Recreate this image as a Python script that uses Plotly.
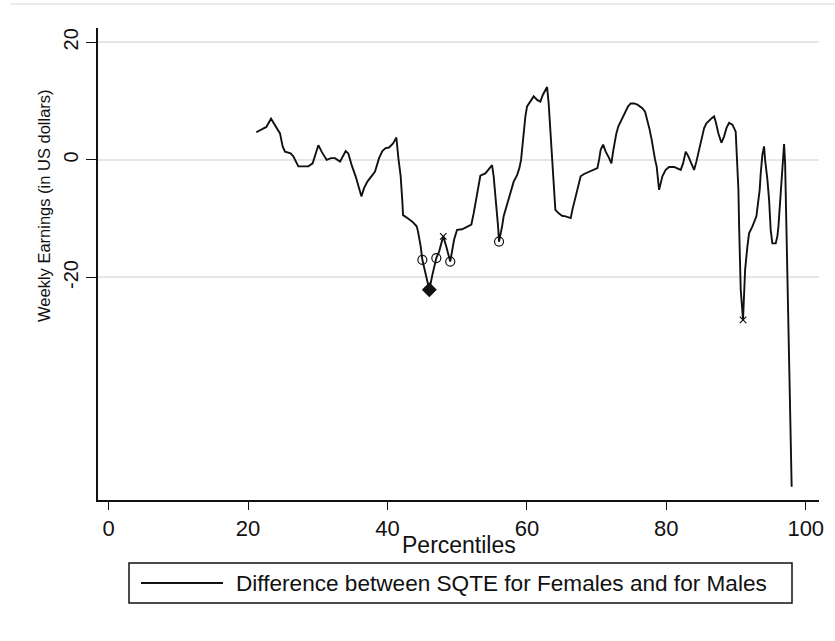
import plotly.graph_objects as go

# ---- data ----
percentiles = [21.18, 22.19, 22.62, 23.29, 23.95, 24.58, 24.96, 25.30, 26.10, 26.49,
               27.21, 28.65, 29.26, 30.08, 30.55, 31.27, 31.90, 32.47, 33.19, 34.00,
               34.38, 34.86, 35.43, 35.82, 36.25, 36.64, 37.11, 37.83, 38.21, 38.79,
               39.26, 39.74, 40.22, 40.80, 41.27, 41.56, 41.89, 42.13, 42.23, 42.85,
               43.56, 44.18, 44.38, 44.76, 45.00, 45.39, 45.72, 46.00, 46.43, 47.00,
               47.40, 47.77, 48.00, 48.49, 48.84, 49.00, 49.55, 49.98, 50.70, 51.41,
               52.03, 52.36, 52.60, 52.85, 53.08, 53.32, 54.04, 54.51, 55.00, 55.23,
               55.47, 55.72, 55.86, 56.00, 56.19, 56.44, 56.66, 56.91, 57.15, 57.48,
               57.77, 58.10, 58.59, 58.92, 59.16, 59.30, 59.53, 59.78, 60.02, 60.50,
               60.97, 61.46, 61.93, 62.26, 62.89, 63.12, 63.36, 63.61, 63.84, 64.08,
               64.56, 65.04, 65.56, 66.28, 66.52, 66.77, 66.99, 67.24, 67.48, 67.71,
               68.20, 68.92, 69.63, 70.11, 70.35, 70.58, 70.93, 71.30, 71.79, 72.12,
               72.36, 72.59, 72.83, 73.12, 73.45, 73.79, 74.17, 74.51, 74.89, 75.37,
               75.85, 76.56, 76.95, 77.28, 77.61, 77.90, 78.14, 78.39, 78.61, 78.86,
               78.96, 79.19, 79.43, 79.91, 80.39, 81.11, 81.58, 82.06, 82.40, 82.78,
               83.16, 83.49, 83.98, 84.31, 84.70, 84.93, 85.17, 85.42, 85.75, 86.13,
               86.51, 86.85, 87.08, 87.47, 87.90, 88.29, 88.62, 89.00, 89.48, 89.95,
               90.09, 90.19, 90.34, 90.44, 90.52, 90.67, 91.00, 91.15, 91.30, 91.63,
               91.87, 92.35, 92.59, 92.92, 93.21, 93.39, 93.54, 93.78, 94.02, 94.17,
               94.50, 94.74, 94.97, 95.21, 95.69, 95.93, 96.08, 96.26, 96.41, 96.55,
               96.75, 96.89, 97.04, 97.12, 97.22, 97.37, 97.61, 97.84, 97.98]
difference = [4.7, 5.4, 5.6, 7.0, 5.7, 4.5, 2.3, 1.4, 1.1, 0.6,
              -1.1, -1.1, -0.6, 2.5, 1.4, 0.0, 0.3, 0.3, -0.3, 1.5,
              1.1, -0.9, -2.8, -4.3, -6.2, -4.8, -3.7, -2.6, -2.0, 0.3,
              1.5, 2.0, 2.1, 2.8, 3.8, 0.3, -2.8, -7.1, -9.4, -9.9,
              -10.5, -11.3, -12.2, -14.7, -17.0, -19.0, -20.7, -22.1, -19.6, -16.7,
              -15.6, -14.2, -13.0, -15.0, -16.4, -17.3, -13.6, -11.9, -11.8, -11.3,
              -11.0, -9.1, -7.4, -5.7, -4.0, -2.7, -2.3, -1.7, -0.9, -2.8,
              -5.7, -9.1, -11.3, -13.9, -13.0, -11.3, -9.6, -8.5, -7.4, -6.0,
              -4.8, -3.7, -2.6, -1.4, 0.0, 1.7, 5.1, 7.4, 9.1, 9.9,
              10.8, 10.2, 9.9, 11.0, 12.4, 9.6, 5.1, -0.6, -4.0, -8.5,
              -9.1, -9.5, -9.6, -9.9, -8.5, -7.4, -6.2, -5.1, -4.0, -2.8,
              -2.4, -2.0, -1.6, -1.4, 0.0, 1.7, 2.6, 1.4, 0.3, -0.6,
              1.4, 3.1, 4.5, 5.7, 6.5, 7.4, 8.2, 9.1, 9.6, 9.6,
              9.4, 8.8, 8.2, 6.8, 5.1, 3.4, 1.4, 0.0, -1.1, -4.0,
              -5.1, -4.0, -2.8, -1.7, -1.2, -1.2, -1.4, -1.7, -0.6, 1.4,
              0.6, -0.3, -1.7, -0.3, 1.7, 3.4, 4.5, 5.4, 6.2, 6.7,
              7.1, 7.4, 6.5, 4.5, 2.9, 4.0, 5.4, 6.3, 6.0, 4.8,
              1.7, -0.9, -5.1, -11.3, -16.4, -22.1, -27.2, -22.1, -18.7, -14.7,
              -12.5, -11.3, -10.5, -9.6, -6.8, -5.1, -2.3, 0.9, 2.3, 0.0,
              -3.4, -6.8, -11.9, -14.2, -14.2, -13.0, -11.3, -7.9, -5.1, -2.8,
              0.6, 2.7, -0.6, -5.1, -10.8, -19.3, -33.5, -48.2, -55.6]

circle_pct = [45, 47, 49, 56]
circle_val = [-17.0, -16.7, -17.3, -13.9]
diamond_pct = [46]
diamond_val = [-22.1]
cross_pct = [48, 91]
cross_val = [-13.0, -27.2]

x_ticks = [0, 20, 40, 60, 80, 100]
y_ticks = [-20, 0, 20]

series_name = "Difference between SQTE for Females and for Males"
x_title = "Percentiles"
y_title = "Weekly Earnings (in US dollars)"

# ---- layout geometry (pixels) ----
W, H = 835, 641
ML, MR, MT, MB = 98, 16, 28, 141
PW, PH = W - ML - MR, H - MT - MB

def px(xp):
    return (xp - ML) / PW

def py(yp):
    return (H - MB - yp) / PH

FONT = "Liberation Sans, Arial, Helvetica, sans-serif"
INK = "#111111"

fig = go.Figure()
fig.add_trace(go.Scatter(x=percentiles, y=difference, mode="lines",
                         line=dict(color=INK, width=1.9), name=series_name,
                         showlegend=False))
fig.add_trace(go.Scatter(x=circle_pct, y=circle_val, mode="markers",
                         marker=dict(symbol="circle-open", size=9, color=INK,
                                     line=dict(width=1.2, color=INK)),
                         showlegend=False))
fig.add_trace(go.Scatter(x=diamond_pct, y=diamond_val, mode="markers",
                         marker=dict(symbol="diamond", size=11.5, color=INK),
                         showlegend=False))
fig.add_trace(go.Scatter(x=cross_pct, y=cross_val, mode="markers",
                         marker=dict(symbol="x-thin-open", size=6.5, color=INK,
                                     line=dict(width=1.2, color=INK)),
                         showlegend=False))

fig.update_layout(
    width=W, height=H,
    margin=dict(l=ML, r=MR, t=MT, b=MB, autoexpand=False),
    paper_bgcolor="white", plot_bgcolor="white",
    font=dict(family=FONT, color=INK),
    showlegend=False,
    xaxis=dict(range=[-1.53, 101.9], tickvals=x_ticks,
               ticktext=[str(v) for v in x_ticks],
               showgrid=False, zeroline=False,
               showline=True, linecolor=INK, linewidth=1.6,
               ticks="outside", ticklen=8, tickwidth=1.4, tickcolor=INK,
               tickfont=dict(size=22, family=FONT, color=INK)),
    yaxis=dict(range=[-57.85, 22.43], tickvals=y_ticks,
               ticktext=[str(v) for v in y_ticks],
               showgrid=True, gridcolor="#e6e6e6", gridwidth=1.5,
               zeroline=False,
               showline=True, linecolor=INK, linewidth=1.6,
               ticks="outside", ticklen=10, tickwidth=1.4, tickcolor=INK,
               tickangle=-90,
               tickfont=dict(size=20, family=FONT, color=INK)),
)

# axis titles
fig.add_annotation(text=x_title, xref="paper", yref="paper",
                   x=0.5, y=py(545), xanchor="center", yanchor="middle",
                   showarrow=False, font=dict(size=23, family=FONT, color=INK))
fig.add_annotation(text=y_title, xref="paper", yref="paper",
                   x=px(44), y=py(206), xanchor="center", yanchor="middle",
                   textangle=-90,
                   showarrow=False, font=dict(size=16.5, family=FONT, color=INK))

# legend (drawn as a box, a line key and a label)
fig.add_shape(type="rect", xref="paper", yref="paper",
              x0=px(129), x1=px(792), y0=py(603), y1=py(563),
              line=dict(color=INK, width=1.5), fillcolor="white")
fig.add_shape(type="line", xref="paper", yref="paper",
              x0=px(141), x1=px(223), y0=py(583), y1=py(583),
              line=dict(color=INK, width=1.8))
fig.add_annotation(text=series_name, xref="paper", yref="paper",
                   x=px(234), y=py(583), xanchor="left", yanchor="middle",
                   showarrow=False, font=dict(size=22.6, family=FONT, color=INK))

# faint frame line at the very top of the graph region
fig.add_shape(type="line", xref="paper", yref="paper",
              x0=px(10), x1=px(835), y0=py(4), y1=py(4),
              line=dict(color="#ececec", width=2))

fig.write_html("out.html",
               config={"displayModeBar": False},
               post_script="document.body.style.margin='0';document.body.style.overflow='hidden';")
